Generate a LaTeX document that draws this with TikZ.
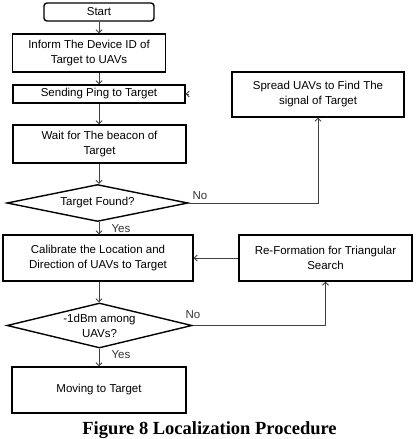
\documentclass[tikz,border=0pt]{standalone}
\usepackage{fontspec}
\setmainfont{Liberation Sans}
\newfontfamily\capfont{Liberation Serif}
\usetikzlibrary{shapes.geometric,arrows.meta}
\begin{document}
\begin{tikzpicture}[x=1pt,y=-1pt,
  box/.style={draw=black,line width=1.4pt,fill=white,inner sep=1pt,align=center,
    font=\fontsize{11.5}{15}\selectfont},
  dia/.style={draw=black,line width=1.4pt,diamond,inner sep=0pt,align=center,
    font=\fontsize{11.5}{15}\selectfont},
  conn/.style={draw=black!75,line width=0.8pt,-{Straight Barb[length=3pt,width=6pt]}},
  lab/.style={font=\fontsize{11.5}{13}\selectfont,text=black!80,inner sep=0pt}]
\useasboundingbox (0,0) rectangle (415,439);
\node[box,rounded corners=3pt,minimum width=110pt,minimum height=18pt] (start) at (99,12) {Start};
\node[box,minimum width=153pt,minimum height=38pt] (inform) at (89,53) {Inform The Device ID of\\Target to UAVs};
\node[box,minimum width=172pt,minimum height=18pt] (ping) at (99,94) {Sending Ping to Target};
\node[box,minimum width=173pt,minimum height=38pt] (wait) at (99.5,144) {Wait for The beacon of\\Target};
\node[dia,aspect=4.9,minimum width=181pt,minimum height=37pt] (found) at (97.5,203) {Target Found?};
\node[box,minimum width=190pt,minimum height=46pt] (calib) at (98,258) {Calibrate the Location and\\Direction of UAVs to Target};
\node[box,minimum width=173pt,minimum height=46pt] (reform) at (325.5,258) {Re-Formation for Triangular\\Search};
\node[box,minimum width=172pt,minimum height=45pt] (spread) at (318,94.5) {Spread UAVs to Find The\\signal of Target};
\node[dia,aspect=4.1,minimum width=185pt,minimum height=45pt] (dbm) at (99.5,325.5) {-1dBm among\\UAVs?};
\node[box,minimum width=174pt,minimum height=46pt] (moving) at (99,390) {Moving to Target};
\node[lab] (no1) at (200,196) {No};
\node[lab] (yes1) at (121,229) {Yes};
\node[lab] (no2) at (193,315) {No};
\node[lab] (yes2) at (121,355) {Yes};
\node[font=\capfont\bfseries\fontsize{18.5}{21}\selectfont,anchor=base,inner sep=0pt] (cap) at (209.5,434.5) {Figure 8 Localization Procedure};
\coordinate (pingstub) at ([xshift=3pt]ping.east);
\draw[conn] (start.south) -- (start.south |- inform.north);
\draw[conn] (start.south |- inform.south) -- (start.south |- ping.north);
\draw[conn] (start.south |- ping.south) -- (start.south |- wait.north);
\draw[conn] (start.south |- wait.south) -- (start.south |- found.north);
\draw[conn] (start.south |- found.south) -- (start.south |- calib.north);
\draw[conn] (start.south |- calib.south) -- (start.south |- dbm.north);
\draw[conn] (start.south |- dbm.south) -- (start.south |- moving.north);
\draw[conn] (found.east) -| (spread.south);
\draw[conn] (reform.west) -- (calib.east);
\draw[conn] (dbm.east) -| (reform.south);
\draw[conn] (pingstub) -- (ping.east);
\end{tikzpicture}
\end{document}
